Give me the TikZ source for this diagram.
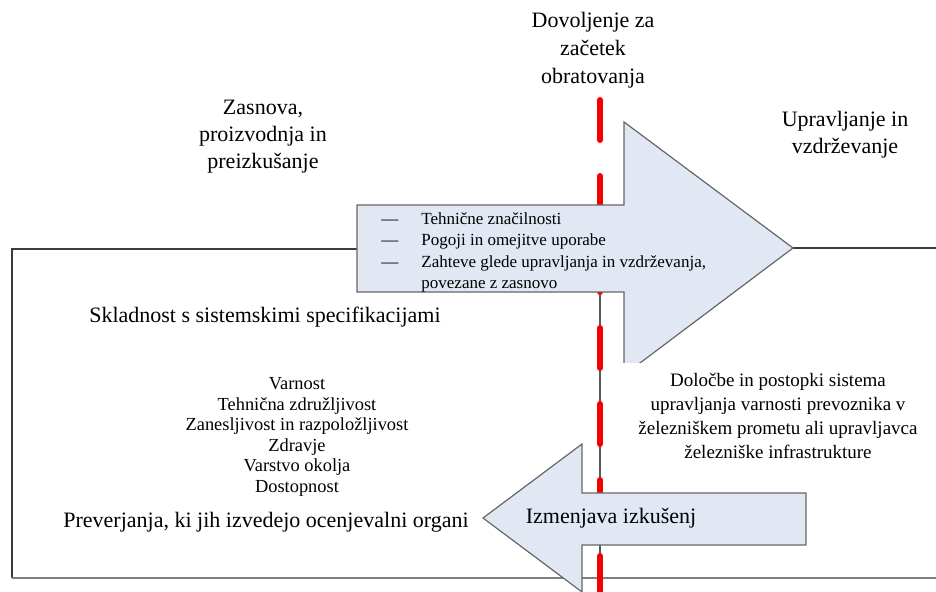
\documentclass[tikz,border=0pt]{standalone}
\usepackage{fontspec}
\setmainfont{Liberation Serif}
\usepackage{xcolor}
\definecolor{arrowfill}{RGB}{225,232,244}
\definecolor{linered}{RGB}{245,0,0}
\definecolor{framegray}{RGB}{60,60,60}

\begin{document}
\begin{tikzpicture}[x=0.5pt, y=-0.5pt,
		lbl/.style={align=center, font=\fontsize{11}{13.5}\selectfont, inner sep=0pt},
		small/.style={align=center, font=\fontsize{9.2}{10.3}\selectfont, inner sep=0pt},
		bigarrow/.style={fill=arrowfill, draw=gray!80!black, line width=0.6pt, line join=miter},
		frame/.style={draw=framegray, line width=0.8pt}]
		\useasboundingbox (0,0) rectangle (936,592);
		% Rahmen
		\draw[frame] (357,249) -- (12,249) -- (12,578);
		\draw[gray, line width=1.2pt] (12,578) -- (936,578);
		\draw[frame] (793,248) -- (936,248);
		% Trennlinie und Freigabe
		\draw[gray!70!black, line width=1pt] (600,292) -- (600,592);
		\draw[linered, line width=3pt, line cap=round, dash pattern=on 20pt off 18pt] (600,100) -- (600,592);
		% Pfeile
		\begin{scope}
			\clip (0,0) rectangle (936,363);
			\draw[bigarrow] (357,205) -- (624,205) -- (624,122) -- (793,248) -- (624,375) -- (624,292) -- (357,292) -- cycle;
		\end{scope}
		\draw[bigarrow] (806,493) -- (582,493) -- (582,444) -- (483,518) -- (582,592) -- (582,545) -- (806,545) -- cycle;
		% Beschriftung
		\node[lbl, font=\fontsize{11}{14}\selectfont] (permit) at (593,50) {Dovoljenje za\\začetek\\obratovanja};
		\node[lbl] (design) at (263,137) {Zasnova,\\proizvodnja in\\preizkušanje};
		\node[lbl] (operation) at (845,135) {Upravljanje in\\vzdrževanje};
		\node[anchor=north west, inner sep=0pt, font=\fontsize{8.5}{10.75}\selectfont] (handover) at (381,209)
			{\begin{tabular}{@{}l@{\hspace{11.5pt}}l@{}}
				— & Tehnične značilnosti\\
				— & Pogoji in omejitve uporabe\\
				— & Zahteve glede upravljanja in vzdrževanja,\\
				  & povezane z zasnovo
			\end{tabular}};
		\node[lbl] (conform) at (265,317) {Skladnost s sistemskimi specifikacijami};
		\node[small] (aspects) at (297,437) {Varnost\\Tehnična združljivost\\Zanesljivost in razpoložljivost\\Zdravje\\Varstvo okolja\\Dostopnost};
		\node[lbl] (checks) at (266,522) {Preverjanja, ki jih izvedejo ocenjevalni organi};
		\node[lbl] (feedback) at (611,518) {Izmenjava izkušenj};
		\node[align=center, inner sep=0pt, font=\fontsize{9.5}{12}\selectfont] (sms) at (778,416)
			{Določbe in postopki sistema\\upravljanja varnosti prevoznika v\\železniškem prometu ali upravljavca\\železniške infrastrukture};
	\end{tikzpicture}
\end{document}
